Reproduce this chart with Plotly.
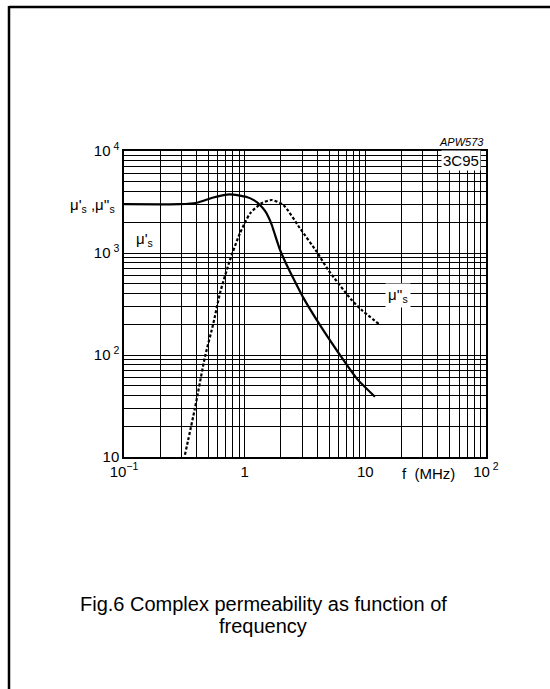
import plotly.graph_objects as go

# ---- data ----
f_mu_re = [0.1, 0.2, 0.29, 0.4, 0.55, 0.75, 1.04, 1.2, 1.34, 1.47, 1.57, 1.68, 1.78, 1.96, 2.2, 2.45, 3.06, 4.2, 6.16, 8.47, 12.0]
mu_re = [3020, 3000, 3010, 3110, 3500, 3760, 3540, 3280, 2960, 2600, 2270, 1880, 1520, 1080, 790, 610, 365, 197, 100, 59, 39]

f_mu_im = [0.32, 0.387, 0.469, 0.55, 0.624, 0.755, 0.914, 1.11, 1.38, 1.67, 2.09, 2.87, 3.95, 4.93, 7.7, 9.32, 13.0]
mu_im = [10.5, 30, 96, 204, 403, 853, 1560, 2450, 3070, 3310, 2960, 1750, 1030, 681, 346, 276, 201]

x_major = [0.1, 1, 10, 100]
x_major_text = ["10<sup>\u22121</sup>", "1", "10", "10<sup> 2</sup>"]
y_major = [10, 100, 1000, 10000]
y_major_text = ["10", "10<sup> 2</sup>", "10<sup> 3</sup>", "10<sup> 4</sup>"]

caption_lines = ["Fig.6 Complex permeability as function of", "frequency"]

# ---- layout geometry ----
W, H = 550, 689
L, R, T, B = 124, 486, 151, 457


def px(x):
    return (x - L) / (R - L)


def py(y):
    return (B - y) / (B - T)


def minor_vals(lo_exp, hi_exp):
    vals = []
    for e in range(lo_exp, hi_exp):
        for k in range(2, 10):
            vals.append(round(k * 10 ** e, 6))
    return vals


FONT = "Liberation Sans, Arial, Helvetica, sans-serif"

fig = go.Figure()
fig.add_trace(go.Scatter(x=f_mu_re, y=mu_re, mode="lines",
                         line=dict(color="black", width=2.2, shape="spline", smoothing=0.6),
                         showlegend=False, hoverinfo="skip"))
fig.add_trace(go.Scatter(x=f_mu_im, y=mu_im, mode="lines",
                         line=dict(color="black", width=2.2, dash="3px,2px", shape="spline", smoothing=0.6),
                         showlegend=False, hoverinfo="skip"))

axis_common = dict(showgrid=True, gridcolor="black", gridwidth=1, showline=True, linecolor="black",
                   linewidth=1.5, mirror=True, ticks="", zeroline=False,
                   tickfont=dict(family=FONT, size=15, color="black"))

fig.update_xaxes(type="log", range=[-1, 2], tickmode="array", tickvals=x_major,
                 ticktext=x_major_text,
                 minor=dict(tickmode="array", tickvals=minor_vals(-1, 2), showgrid=True,
                            gridcolor="black", gridwidth=1, ticks=""),
                 **axis_common)
fig.update_yaxes(type="log", range=[1, 4], tickmode="array", tickvals=y_major,
                 ticktext=y_major_text,
                 minor=dict(tickmode="array", tickvals=minor_vals(1, 4), showgrid=True,
                            gridcolor="black", gridwidth=1, ticks=""),
                 **axis_common)

ann = []
ann.append(dict(x=px(486), y=py(142), xref="paper", yref="paper", text="<i>APW573</i>",
                showarrow=False, xanchor="right", yanchor="middle",
                font=dict(family=FONT, size=11, color="black")))
ann.append(dict(x=px(461), y=py(160), xref="paper", yref="paper", text="3C95",
                showarrow=False, xanchor="center", yanchor="middle", bgcolor="white",
                borderpad=1, font=dict(family=FONT, size=15, color="black")))
ann.append(dict(x=px(117), y=py(205), xref="paper", yref="paper",
                text="\u03bc'<sub>s</sub> ,\u03bc''<sub>s</sub>",
                showarrow=False, xanchor="right", yanchor="middle",
                font=dict(family=FONT, size=15, color="black")))
ann.append(dict(x=px(144), y=py(239), xref="paper", yref="paper",
                text="\u03bc'<sub>s</sub>",
                showarrow=False, xanchor="center", yanchor="middle",
                font=dict(family=FONT, size=15, color="black")))
ann.append(dict(x=px(398), y=py(295), xref="paper", yref="paper",
                text="\u03bc''<sub>s</sub>", bgcolor="white", borderpad=2,
                showarrow=False, xanchor="center", yanchor="middle",
                font=dict(family=FONT, size=15, color="black")))
ann.append(dict(x=px(428), y=py(473), xref="paper", yref="paper",
                text="f  (MHz)",
                showarrow=False, xanchor="center", yanchor="middle",
                font=dict(family=FONT, size=15, color="black")))
for i, line in enumerate(caption_lines):
    ann.append(dict(x=px(263), y=py(604 + 22 * i), xref="paper", yref="paper",
                    text=line, align="center",
                    showarrow=False, xanchor="center", yanchor="middle",
                    font=dict(family=FONT, size=20, color="black")))

shapes = [
    dict(type="line", xref="paper", yref="paper", x0=px(9), x1=px(560), y0=py(7), y1=py(7),
         line=dict(color="black", width=2.5)),
    dict(type="line", xref="paper", yref="paper", x0=px(9), x1=px(9), y0=py(6), y1=py(700),
         line=dict(color="black", width=2.5)),
]

fig.update_layout(width=W, height=H, margin=dict(l=L, r=W - R, t=T, b=H - B),
                  paper_bgcolor="white", plot_bgcolor="white",
                  annotations=ann, shapes=shapes, showlegend=False)

fig.write_html("out.html", config={"displayModeBar": False},
               post_script="document.body.style.margin='0';document.body.style.padding='0';")
